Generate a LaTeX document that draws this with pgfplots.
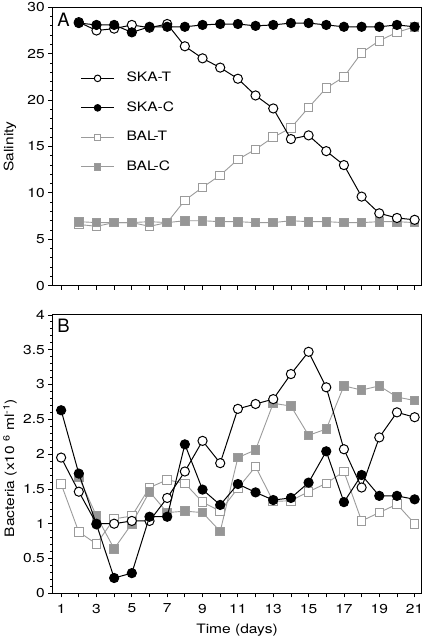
\documentclass[border=0pt]{standalone}
\usepackage{pgfplots}
\pgfplotsset{compat=1.18}
\usepackage{fontspec}
\setmainfont{TeX Gyre Heros}[FakeStretch=1.2]
\newfontfamily\plainheros{TeX Gyre Heros}
\definecolor{grayline}{RGB}{155,155,155}
\definecolor{grayfill}{RGB}{150,150,150}
\newcommand{\lblfont}{\fontsize{13}{15}\selectfont}
\begin{document}
\begin{tikzpicture}
\useasboundingbox (-52.3bp,-351.3bp) rectangle (372.7bp,285.7bp);
\pgfplotsset{
  every axis/.append style={
    scale only axis, width=369.4bp, height=278.4bp,
    xmin=0.5, xmax=21.4,
    axis line style={line width=1.1bp},
    tick align=outside, xtick pos=bottom, ytick pos=left,
    major tick length=4bp, minor tick length=2.2bp,
    every tick/.style={line width=0.8bp, black},
    tick label style={font=\lblfont},
    label style={font=\lblfont},
    /pgf/number format/assume math mode=true,
    xtick={1,...,21}, minor y tick num=4,
    clip mode=individual,
  },
  mylegend/.style={legend image code/.code={\draw[mark repeat=2,mark phase=2,mark size=3.3bp] plot coordinates {(0bp,0bp)(16.5bp,0bp)(33bp,0bp)};}},
  skat/.style={black, line width=1bp, mark=*, mark options={fill=white, solid}, mark size=4.6bp, mylegend},
  skac/.style={black, line width=1bp, mark=*, mark options={fill=black, solid}, mark size=4.6bp, mylegend},
  balt/.style={grayline, line width=0.9bp, mark=square*, mark options={fill=white, solid}, mark size=4.3bp, mylegend},
  balc/.style={grayline, line width=0.9bp, mark=square*, mark options={fill=grayfill, solid}, mark size=4.3bp, mylegend},
}
\begin{axis}[at={(0bp,0bp)}, anchor=south west,
  ymin=0, ymax=30, ytick={0,5,10,15,20,25,30},
  xticklabels={},
  ylabel={Salinity},
  ylabel style={at={(axis description cs:-0.1145,0.5)}, anchor=center},
  legend style={draw=none, fill=none, at={(axis description cs:0.068,0.776)}, anchor=north west,
    font=\lblfont, nodes={inner xsep=7bp, inner ysep=0pt, text height=10bp, text depth=3bp},
    /tikz/row sep=16.5bp, /tikz/column sep=5bp},
  legend cell align=left,
]
\addlegendimage{skat}\addlegendentry{SKA-T}
\addlegendimage{skac}\addlegendentry{SKA-C}
\addlegendimage{balt}\addlegendentry{BAL-T}
\addlegendimage{balc}\addlegendentry{BAL-C}
\addplot[balt, forget plot] coordinates {(2,6.6)(3,6.4)(4,6.8)(5,6.8)(6,6.4)(7,6.8)(8,9.2)(9,10.6)(10,11.9)(11,13.6)(12,14.7)(13,16.0)(14,17.0)(15,19.2)(16,21.3)(17,22.5)(18,25.1)(19,26.4)(20,27.3)(21,27.9)};
\addplot[balc, forget plot] coordinates {(2,6.9)(3,6.8)(4,6.8)(5,6.8)(6,6.9)(7,6.8)(8,7.0)(9,7.0)(10,6.9)(11,6.9)(12,6.8)(13,6.8)(14,7.0)(15,6.9)(16,6.9)(17,6.8)(18,6.8)(19,6.9)(20,6.9)(21,6.8)};
\addplot[skat, forget plot] coordinates {(2,28.4)(3,27.5)(4,27.7)(5,28.1)(6,27.8)(7,28.2)(8,25.8)(9,24.5)(10,23.5)(11,22.3)(12,20.5)(13,19.1)(14,15.8)(15,16.2)(16,14.5)(17,13.0)(18,9.6)(19,7.8)(20,7.3)(21,7.1)};
\addplot[skac, forget plot] coordinates {(2,28.3)(3,28.1)(4,28.1)(5,27.3)(6,27.9)(7,27.9)(8,27.9)(9,28.1)(10,28.2)(11,28.2)(12,28.0)(13,28.1)(14,28.3)(15,28.3)(16,28.1)(17,27.9)(18,27.9)(19,27.9)(20,28.1)(21,27.9)};
\node[anchor=north west, inner sep=0pt, font=\plainheros\fontsize{18.5}{20}\selectfont] at (axis description cs:0.0135,0.981) {A};
\end{axis}
\begin{axis}[at={(0bp,-307.6bp)}, anchor=south west,
  ymin=0, ymax=4, ytick={0,0.5,1,1.5,2,2.5,3,3.5,4},
  xticklabels={1,,3,,5,,7,,9,,11,,13,,15,,17,,19,,21},
  xticklabel style={yshift=-3bp},
  xlabel={Time (days)},
  xlabel style={yshift=-4bp},
  ylabel={Bacteria (x10 \textsuperscript{6} ml\textsuperscript{-1})},
  ylabel style={at={(axis description cs:-0.1145,0.45)}, anchor=center},
]
\addplot[balt] coordinates {(1,1.57)(2,0.88)(3,0.71)(4,1.07)(5,1.11)(6,1.52)(7,1.63)(8,1.58)(9,1.31)(10,1.18)(11,1.51)(12,1.82)(13,1.32)(14,1.33)(15,1.46)(16,1.58)(17,1.75)(18,1.04)(19,1.16)(20,1.28)(21,1.0)};
\addplot[balc] coordinates {(2,1.67)(3,1.11)(4,0.64)(5,1.0)(6,1.46)(7,1.16)(8,1.18)(9,1.16)(10,0.89)(11,1.95)(12,2.06)(13,2.73)(14,2.69)(15,2.27)(16,2.36)(17,2.98)(18,2.92)(19,2.98)(20,2.82)(21,2.77)};
\addplot[skat] coordinates {(1,1.95)(2,1.46)(3,1.0)(4,1.0)(5,1.04)(6,1.04)(7,1.37)(8,1.75)(9,2.19)(10,1.87)(11,2.65)(12,2.72)(13,2.79)(14,3.15)(15,3.47)(16,2.96)(17,2.07)(18,1.52)(19,2.24)(20,2.6)(21,2.53)};
\addplot[skac] coordinates {(1,2.63)(2,1.72)(3,0.99)(4,0.22)(5,0.29)(6,1.1)(7,1.1)(8,2.14)(9,1.49)(10,1.27)(11,1.57)(12,1.45)(13,1.34)(14,1.37)(15,1.59)(16,2.04)(17,1.31)(18,1.70)(19,1.40)(20,1.40)(21,1.35)};
\node[anchor=north west, inner sep=0pt, font=\plainheros\fontsize{18.5}{20}\selectfont] at (axis description cs:0.0135,0.985) {B};
\end{axis}
\end{tikzpicture}
\end{document}
